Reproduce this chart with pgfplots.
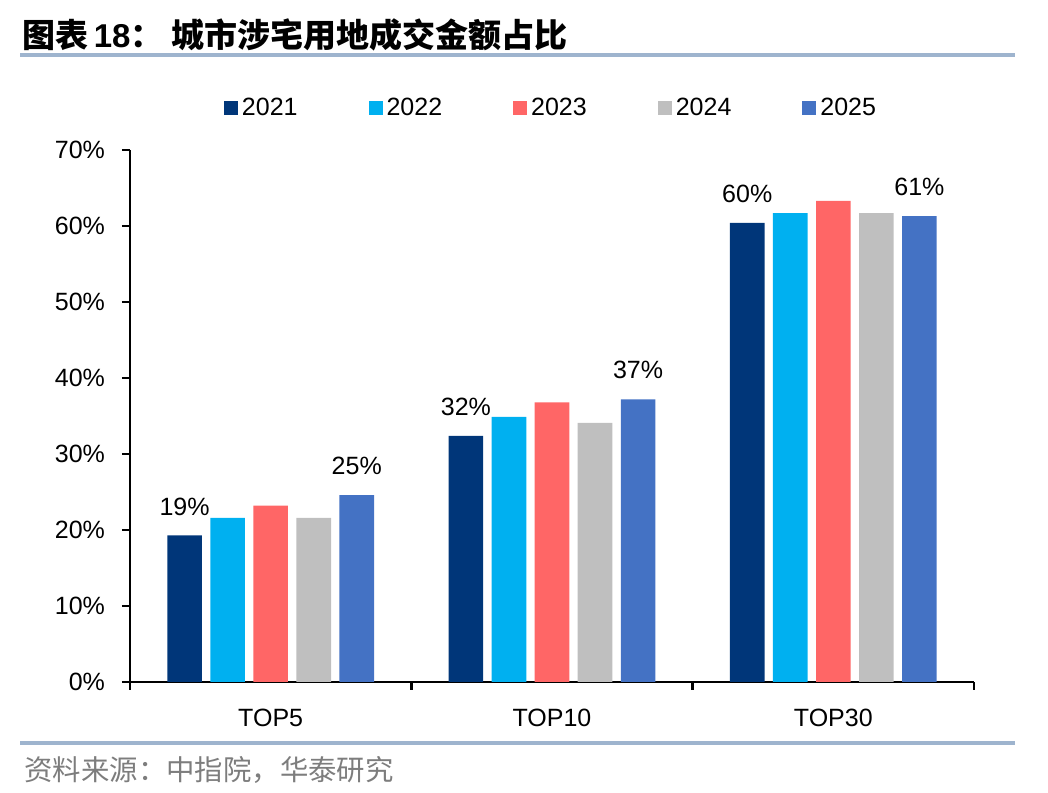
\documentclass[border=0pt]{standalone}
\usepackage{pgfplots}
\pgfplotsset{compat=1.18}
\usepackage{fontspec}
\setmainfont{Liberation Sans}
\newfontfamily\cjk{Noto Sans CJK SC}

\definecolor{c21}{RGB}{0,54,121}
\definecolor{c22}{RGB}{0,176,240}
\definecolor{c23}{RGB}{255,102,102}
\definecolor{c24}{RGB}{191,191,191}
\definecolor{c25}{RGB}{68,114,196}
\definecolor{rulec}{RGB}{158,180,206}
\definecolor{srcc}{RGB}{125,125,125}

\pgfplotsset{
  sq/.style={legend image code/.code={\fill[##1] (-2pt,-3.5pt) rectangle (5pt,3.5pt);}},
  lbl/.style={nodes near coords, point meta=explicit symbolic,
    every node near coord/.append style={font=\fontsize{12.5}{15}\selectfont, black, yshift=6.5pt}},
}

\begin{document}
\begin{tikzpicture}
\useasboundingbox (0,0) rectangle (524pt,396pt);

% title and rules
\node[anchor=west, inner sep=0pt] at (11pt,378.5pt)
  {\fontsize{16.5}{19}\selectfont{\cjk\bfseries 图表}\,{\bfseries 18}{\cjk\bfseries ：}\hspace{4pt}{\cjk\bfseries 城市涉宅用地成交金额占比}};
\draw[rulec, line width=2pt] (10pt,368.5pt) -- (507.5pt,368.5pt);
\draw[rulec, line width=2pt] (10pt,24.5pt) -- (507.5pt,24.5pt);
\node[anchor=west, inner sep=0pt, text=srcc] at (12pt,11pt)
  {\fontsize{14.2}{16}\selectfont\cjk 资料来源：中指院，华泰研究};

\begin{axis}[
  at={(65pt,55pt)}, anchor=south west,
  scale only axis, width=422pt, height=266pt,
  xmin=-0.5, xmax=2.5, ymin=0, ymax=70,
  axis x line*=bottom, axis y line*=left,
  axis line style={line width=1.2pt, -},
  xtick={0,1,2}, xticklabels={TOP5,TOP10,TOP30},
  major x tick style={draw=none},
  minor xtick={-0.5,0.5,1.5,2.5},
  ytick={0,10,...,70},
  yticklabels={0\%,10\%,20\%,30\%,40\%,50\%,60\%,70\%},
  tick align=outside, major tick length=4pt, minor tick length=4pt,
  tick style={line width=1.2pt, black},
  ticklabel style={font=\fontsize{12.5}{15}\selectfont},
  xticklabel style={yshift=-6pt},
  yticklabel style={xshift=-5pt},
  ybar, bar width=0.123,
  legend columns=5,
  legend style={at={(0.5,1.079)}, anchor=center, draw=none,
    font=\fontsize{12.5}{15}\selectfont,
    /tikz/every even column/.append style={column sep=33.5pt}},
]
\addplot[fill=c21, draw=none, bar shift=-0.306, sq, lbl]
  coordinates {(0,19.3) [19\%] (1,32.4) [32\%] (2,60.4) [60\%]};
\addlegendentry{2021}
\addplot[fill=c22, draw=none, bar shift=-0.153, sq]
  coordinates {(0,21.6) (1,34.9) (2,61.7)};
\addlegendentry{2022}
\addplot[fill=c23, draw=none, bar shift=0, sq]
  coordinates {(0,23.2) (1,36.8) (2,63.3)};
\addlegendentry{2023}
\addplot[fill=c24, draw=none, bar shift=0.153, sq]
  coordinates {(0,21.6) (1,34.1) (2,61.7)};
\addlegendentry{2024}
\addplot[fill=c25, draw=none, bar shift=0.306, sq, lbl]
  coordinates {(0,24.6) [25\%] (1,37.2) [37\%] (2,61.3) [61\%]};
\addlegendentry{2025}
\end{axis}
\end{tikzpicture}
\end{document}
